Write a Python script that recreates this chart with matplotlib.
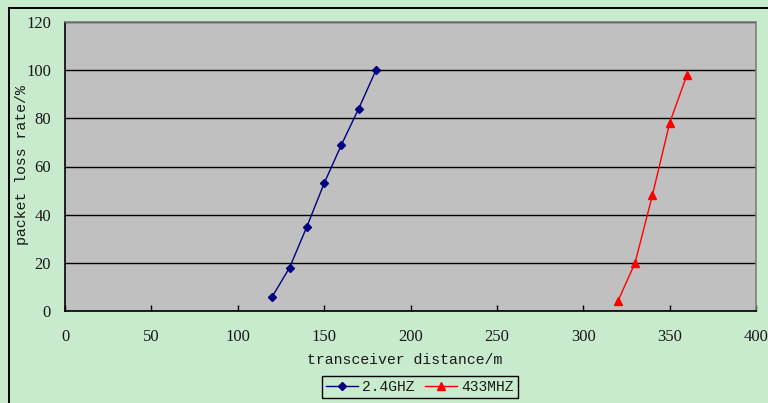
import matplotlib
matplotlib.use("Agg")
import matplotlib.pyplot as plt
from matplotlib.lines import Line2D

# Data
x_24ghz = [120, 130, 140, 150, 160, 170, 180]
y_24ghz = [6, 18, 35, 53, 69, 84, 100]
x_433mhz = [320, 330, 340, 350, 360]
y_433mhz = [4, 20, 48, 78, 98]
series_labels = ["2.4GHZ", "433MHZ"]
x_ticks = [0, 50, 100, 150, 200, 250, 300, 350, 400]
y_ticks = [0, 20, 40, 60, 80, 100, 120]
x_label = "transceiver distance/m"
y_label = "packet loss rate/%"

W, H = 768, 403
fig = plt.figure(figsize=(W / 100, H / 100), dpi=100)
bg = "#C7EBCC"
fig.patch.set_facecolor(bg)

# outer frame (left & top visible)
fig.add_artist(Line2D([9 / W, 9 / W], [0, 1 - 8 / H], transform=fig.transFigure, color="black", lw=1.4))
fig.add_artist(Line2D([9 / W, 1], [1 - 8 / H, 1 - 8 / H], transform=fig.transFigure, color="black", lw=1.4))

left, right, top, bottom = 65, 756, 22, 311
ax = fig.add_axes([left / W, 1 - bottom / H, (right - left) / W, (bottom - top) / H])
ax.set_facecolor("#C0C0C0")

ax.plot(x_24ghz, y_24ghz, color="#000080", lw=1.0, marker="D", markersize=4.5,
        label=series_labels[0], zorder=3)
ax.plot(x_433mhz, y_433mhz, color="#FF0000", lw=1.0, marker="^", markersize=5.5,
        label=series_labels[1], zorder=3)

ax.set_xlim(0, 400)
ax.set_ylim(0, 120)
ax.set_xticks(x_ticks)
ax.set_yticks(y_ticks)
ax.grid(axis="y", color="black", lw=1.0)
ax.set_axisbelow(True)

for s in ("top", "right"):
    ax.spines[s].set_color("#7F7F7F")
    ax.spines[s].set_linewidth(1.2)
for s in ("left", "bottom"):
    ax.spines[s].set_color("black")
    ax.spines[s].set_linewidth(1.2)

ax.tick_params(axis="x", direction="in", length=4, width=1, pad=13, colors="black")
ax.tick_params(axis="y", direction="in", length=0, pad=10)
for lab in ax.get_xticklabels() + ax.get_yticklabels():
    lab.set_fontfamily("Liberation Serif")
    lab.set_fontsize(12)
    lab.set_color("#1A1A1A")

lab_font = dict(family="Liberation Mono", size=10.7, color="#1A1A1A")
fig.text(405 / W, 1 - 360 / H, x_label, ha="center", va="center", **lab_font)
fig.text(22 / W, 1 - 165 / H, y_label, ha="center", va="center", rotation=90, **lab_font)

leg = fig.legend(loc="center", bbox_to_anchor=(420 / W, 1 - 387 / H), ncol=2,
                 frameon=True, fancybox=False, framealpha=1, edgecolor="black",
                 facecolor=bg, prop=dict(family="Liberation Mono", size=10.5),
                 handlelength=2.2, handletextpad=0.3, columnspacing=0.7,
                 borderpad=0.3, borderaxespad=0)
leg.get_frame().set_linewidth(1.0)
for t in leg.get_texts():
    t.set_color("#1A1A1A")

fig.savefig("out.png", dpi=100, facecolor=bg)
